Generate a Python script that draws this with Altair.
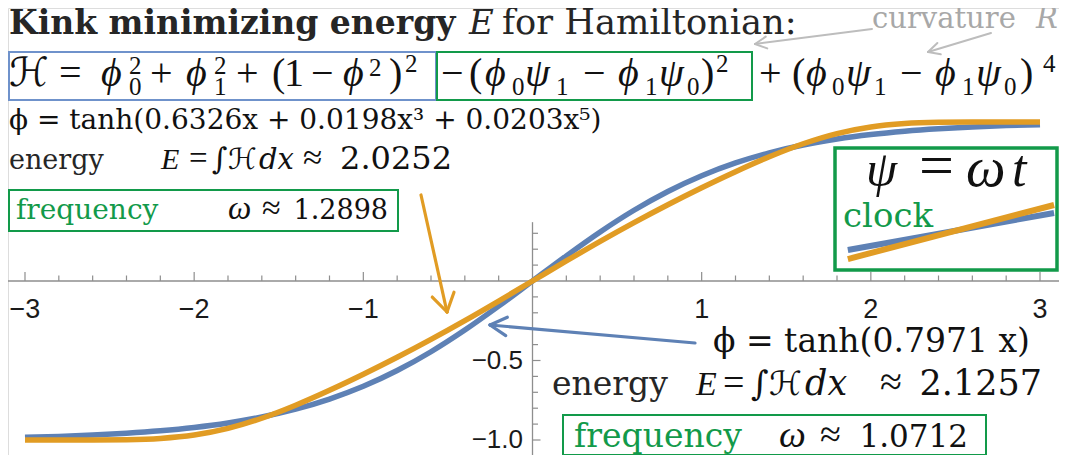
import math
import altair as alt
import pandas as pd

# ---------------- values ----------------
x_grid = [-3.0, -2.8, -2.6, -2.4, -2.2, -2.0, -1.8, -1.6, -1.4, -1.2, -1.0, -0.8, -0.6, -0.4, -0.2, 0.0,
          0.2, 0.4, 0.6, 0.8, 1.0, 1.2, 1.4, 1.6, 1.8, 2.0, 2.2, 2.4, 2.6, 2.8, 3.0]
phi_blue = [-0.9834, -0.9772, -0.9688, -0.9573, -0.9418, -0.9208, -0.8926, -0.8553, -0.8062, -0.7427,
            -0.6624, -0.5633, -0.4449, -0.3085, -0.1581, 0.0,
            0.1581, 0.3085, 0.4449, 0.5633, 0.6624, 0.7427, 0.8062, 0.8553, 0.8926, 0.9208,
            0.9418, 0.9573, 0.9688, 0.9772, 0.9834]
phi_orange = [-1.0, -1.0, -0.9997, -0.9978, -0.9900, -0.9689, -0.9272, -0.8633, -0.7815, -0.6878,
              -0.5868, -0.4799, -0.3674, -0.2492, -0.1260, 0.0,
              0.1260, 0.2492, 0.3674, 0.4799, 0.5868, 0.6878, 0.7815, 0.8633, 0.9272, 0.9689,
              0.9900, 0.9978, 0.9997, 1.0, 1.0]

clock_x = [1.864, 3.083]
clock_blue = [0.195, 0.428]
clock_orange = [0.138, 0.478]

x_tick_major = [-3, -2, -1, 1, 2, 3]
x_tick_labels = ["−3", "−2", "−1", "1", "2", "3"]
y_tick_major = [-1.0, -0.5]
y_tick_labels = ["−1.0", "−0.5"]

# ---------------- layout / style ----------------
W, H, OFF = 1051, 447, 8
X0, Y0, SX, SY = 532.5, 281.0, 169.17, 159.0
x_dom = [-(X0 - OFF) / SX, (OFF + W - X0) / SX]
y_dom = [-(OFF + H - Y0) / SY, (Y0 - OFF) / SY]
xs = alt.Scale(domain=x_dom, nice=False, zero=False)
ys = alt.Scale(domain=y_dom, nice=False, zero=False)

BLUE, ORANGE = "#5E81B5", "#E19C24"
GREEN, BOXBLUE, GRAY, AXIS, DARK = "#129A4A", "#6F92CB", "#A8A8A8", "#8E8E8E", "#262626"
SERIF = "DejaVu Serif"
MATH = "Liberation Serif, DejaVu Serif, DejaVu Sans"
SANS = "Liberation Sans, Arial, sans-serif"

# ---------------- axes (Mathematica style, through origin) ----------------
axis_x = alt.Chart(pd.DataFrame({"a": [-3.2], "b": [3.2], "y": [0.0]})).mark_rule(
    color=AXIS, strokeWidth=1.3).encode(
    x=alt.X("a:Q", scale=xs, axis=None), x2="b:Q", y=alt.Y("y:Q", scale=ys, axis=None))
axis_y = alt.Chart(pd.DataFrame({"x": [0.0], "a": [-1.1], "b": [0.37]})).mark_rule(
    color=AXIS, strokeWidth=1.3).encode(
    x=alt.X("x:Q", scale=xs, axis=None), y=alt.Y("a:Q", scale=ys, axis=None), y2="b:Q")

x_minor = [round(-3.0 + 0.2 * i, 1) for i in range(31) if (i % 5) != 0]
y_minor = [round(-1.1 + 0.1 * i, 1) for i in range(15) if i not in (1, 6, 11)]

def xticks(vals, length):
    return alt.Chart(pd.DataFrame({"t": vals})).mark_rule(color=AXIS, strokeWidth=1.2).encode(
        x=alt.X("t:Q", scale=xs, axis=None),
        y=alt.value(Y0 - OFF), y2=alt.value(Y0 - OFF - length))

def yticks(vals, length):
    return alt.Chart(pd.DataFrame({"t": vals})).mark_rule(color=AXIS, strokeWidth=1.2).encode(
        y=alt.Y("t:Q", scale=ys, axis=None),
        x=alt.value(X0 - OFF), x2=alt.value(X0 - OFF + length))

xlab = alt.Chart(pd.DataFrame({"t": x_tick_major, "s": x_tick_labels})).mark_text(
    font=SANS, fontSize=27, align="center", baseline="alphabetic", color="#1a1a1a").encode(
    x=alt.X("t:Q", scale=xs, axis=None), y=alt.value(318 - OFF), text="s:N")
ylab = alt.Chart(pd.DataFrame({"t": y_tick_major, "s": y_tick_labels})).mark_text(
    font=SANS, fontSize=26, align="right", baseline="middle", color="#1a1a1a").encode(
    y=alt.Y("t:Q", scale=ys, axis=None), x=alt.value(523 - OFF), text="s:N")

# ---------------- curves ----------------
def curve(vals, color):
    return alt.Chart(pd.DataFrame({"x": x_grid, "phi": vals})).mark_line(
        color=color, strokeWidth=5.5, interpolate="monotone", strokeCap="butt").encode(
        x=alt.X("x:Q", scale=xs, axis=None), y=alt.Y("phi:Q", scale=ys, axis=None))

def clock(vals, color):
    return alt.Chart(pd.DataFrame({"x": clock_x, "psi": vals})).mark_line(
        color=color, strokeWidth=6, strokeCap="butt").encode(
        x=alt.X("x:Q", scale=xs, axis=None), y=alt.Y("psi:Q", scale=ys, axis=None))

# ---------------- boxes ----------------
boxes = pd.DataFrame([
    dict(x=9, y=52, x2=436, y2=100, c=BOXBLUE, w=2),
    dict(x=437, y=52, x2=752, y2=100, c=GREEN, w=2),
    dict(x=9, y=190, x2=398, y2=231, c=GREEN, w=2),
    dict(x=563, y=415, x2=986, y2=455, c=GREEN, w=2),
    dict(x=835, y=148, x2=1057, y2=270, c=GREEN, w=3.5),
])
for k in ("x", "x2", "y", "y2"):
    boxes[k] = boxes[k] - OFF
box_layer = alt.Chart(boxes).mark_rect(fillOpacity=0).encode(
    x=alt.X("x:Q", scale=None), x2="x2:Q", y=alt.Y("y:Q", scale=None), y2="y2:Q",
    stroke=alt.Stroke("c:N", scale=None), strokeWidth=alt.StrokeWidth("w:Q", scale=None))

# ---------------- arrows ----------------
def arrow(x1, y1, x2, y2, head, ang, color, w):
    segs = [dict(x=x1, y=y1, x2=x2, y2=y2, c=color, w=w)]
    th = math.atan2(y1 - y2, x1 - x2)
    for s in (1, -1):
        a = th + s * math.radians(ang)
        segs.append(dict(x=x2, y=y2, x2=x2 + head * math.cos(a), y2=y2 + head * math.sin(a), c=color, w=w))
    return segs

arr = pd.DataFrame(
    arrow(421, 195, 447, 312, 21, 32, ORANGE, 3.2)
    + arrow(695, 343, 490, 325, 19, 29, BLUE, 3.2)
    + arrow(872, 29, 755, 44, 13, 27, "#BDBDBD", 2)
    + arrow(991, 33, 928, 52, 13, 27, "#BDBDBD", 2))
for k in ("x", "x2", "y", "y2"):
    arr[k] = arr[k] - OFF
arrow_layer = alt.Chart(arr).mark_rule(strokeCap="round").encode(
    x=alt.X("x:Q", scale=None), x2="x2:Q", y=alt.Y("y:Q", scale=None), y2="y2:Q",
    color=alt.Color("c:N", scale=None), strokeWidth=alt.StrokeWidth("w:Q", scale=None))

# ---------------- texts ----------------
rows = []
def T(text, x, y, size, font=SERIF, style="normal", weight="normal", color=DARK, align="left"):
    rows.append(dict(text=text, px=max(x, OFF + 1) - OFF, py=y - OFF, size=size, font=font,
                     style=style, weight=weight, color=color, align=align))

INK = "#111111"
# title
T("Kink minimizing energy", 8, 34, 33, weight="bold")
T("E", 469, 34, 34, style="italic")
T("for Hamiltonian:", 502, 34, 35.2)
T("curvature", 872, 28, 29, color=GRAY)
T("R", 1036, 28, 29, style="italic", color=GRAY)

# LaTeX formula row
formula = [("ℋ", 9, "o"), ("=", 59, "o"), ("ϕ", 101, "v"), ("0", 129, "b"), ("2", 129, "p"),
           ("+", 150, "o"), ("ϕ", 186, "v"), ("1", 214, "b"), ("2", 214, "p"), ("+", 236, "o"),
           ("(", 272, "o"), ("1", 284, "o"), ("−", 311, "o"), ("ϕ", 343, "v"), ("2", 369, "q"),
           (")", 389, "o"), ("2", 405, "P"),
           ("−", 441, "o"), ("(", 469, "o"), ("ϕ", 485, "v"), ("0", 512, "b"), ("ψ", 525, "v"),
           ("1", 556, "b"), ("−", 583, "o"), ("ϕ", 618, "v"), ("1", 645, "b"), ("ψ", 659, "v"),
           ("0", 687, "b"), (")", 701, "o"), ("2", 716, "P"),
           ("+", 759, "o"), ("(", 792, "o"), ("ϕ", 806, "v"), ("0", 832, "b"), ("ψ", 846, "v"),
           ("1", 874, "b"), ("−", 900, "o"), ("ϕ", 935, "v"), ("1", 962, "b"), ("ψ", 976, "v"),
           ("0", 1004, "b"), (")", 1020, "o"), ("4", 1043, "P")]
kind_y = {"o": 86, "v": 86, "b": 95, "p": 74, "q": 76, "P": 72}
kind_s = {"o": 40, "v": 40, "b": 25, "p": 25, "q": 25, "P": 25}
for s, x, k in formula:
    T(s, x, kind_y[k], kind_s[k], font=MATH, style="italic" if k == "v" else "normal", color=INK)

# left annotation block
T("ϕ = tanh(0.6326x + 0.0198x³ + 0.0203x⁵)", 6, 129, 28, color=INK)
T("energy", 8, 169, 27)
for s, x, st, sz, f in [("E", 161, "italic", 30, MATH), ("=", 189, "normal", 33, MATH),
                        ("∫", 212, "normal", 30, SERIF), ("ℋ", 228, "normal", 29, MATH),
                        ("dx", 259, "italic", 29, SERIF), ("≈", 303, "normal", 35, MATH)]:
    T(s, x, 169, sz, font=f, style=st, color=INK)
T("2.0252", 452, 169, 32, color=INK, align="right")
T("frequency", 16, 219, 28, color=GREEN)
T("ω", 228, 219, 33, font=MATH, style="italic", color=INK)
T("≈", 262, 219, 34, font=MATH, color=INK)
T("1.2898", 388, 219, 27, color=INK, align="right")

# right annotation block
T("ϕ = tanh(0.7971 x)", 713, 352, 33, color=INK)
T("energy", 552, 395, 33)
for s, x, st, sz, f in [("E", 696, "italic", 34, MATH), ("=", 723, "normal", 38, MATH),
                        ("∫", 751, "normal", 34, SERIF), ("ℋ", 769, "normal", 33, MATH),
                        ("dx", 805, "italic", 35, SERIF), ("≈", 880, "normal", 40, MATH)]:
    T(s, x, 395, sz, font=f, style=st, color=INK)
T("2.1257", 1042, 395, 35, color=INK, align="right")
T("frequency", 574, 447, 33, color=GREEN)
T("ω", 779, 447, 38, font=MATH, style="italic", color=INK)
T("≈", 820, 447, 38, font=MATH, color=INK)
T("1.0712", 968, 447, 31, color=INK, align="right")

# clock inset
for s, x, k, sz in [("ψ", 866, "v", 50), ("=", 919, "o", 62), ("ω", 966, "v", 56), ("t", 1012, "v", 52)]:
    T(s, x, 186, sz, font=MATH, style="italic" if k == "v" else "normal", color=INK)
T("clock", 843, 227, 34, color=GREEN)

ann = pd.DataFrame(rows)
text_layers = []
for (font, style, weight, align), g in ann.groupby(["font", "style", "weight", "align"]):
    text_layers.append(
        alt.Chart(g).mark_text(font=font, fontStyle=style, fontWeight=weight, align=align,
                               baseline="alphabetic").encode(
            x=alt.X("px:Q", scale=None), y=alt.Y("py:Q", scale=None), text="text:N",
            size=alt.Size("size:Q", scale=None), color=alt.Color("color:N", scale=None)))

chart = alt.layer(
    axis_x, axis_y, xticks(x_tick_major, 9), xticks(x_minor, 5.5), yticks(y_tick_major, 8),
    yticks(y_minor, 5.5), xlab, ylab,
    curve(phi_blue, BLUE), curve(phi_orange, ORANGE),
    clock(clock_blue, BLUE), clock(clock_orange, ORANGE),
    box_layer, arrow_layer, *text_layers
).resolve_scale(x="independent", y="independent").properties(
    width=W, height=H, padding=0, autosize="none"
).configure_view(stroke=None).configure(background="white")

chart.save("out.html", embed_options={"renderer": "svg", "actions": False})
